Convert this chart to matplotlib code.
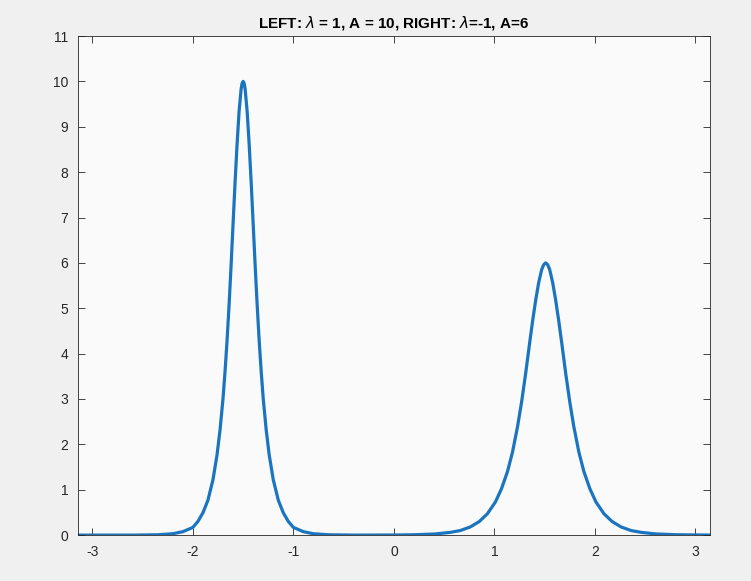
import numpy as np
import matplotlib
matplotlib.use("Agg")
import matplotlib.pyplot as plt

plt.rcParams['font.family'] = ['Liberation Sans', 'DejaVu Sans']
plt.rcParams['mathtext.fontset'] = 'dejavusans'
plt.rcParams['axes.unicode_minus'] = False

# Curve values
x_vals = [-3.1416, -2.6, -2.35, -2.2, -2.1, -2.0, -1.95, -1.9, -1.85, -1.80,
          -1.76, -1.73, -1.70, -1.68, -1.66, -1.64, -1.62, -1.60, -1.58, -1.56,
          -1.54, -1.52, -1.51, -1.50, -1.49, -1.48, -1.46, -1.44, -1.42, -1.40,
          -1.38, -1.36, -1.34, -1.32, -1.30, -1.27, -1.24, -1.20, -1.15, -1.10,
          -1.05, -1.0, -0.9, -0.8, -0.65, -0.4, 0.0, 0.21, 0.41, 0.56,
          0.66, 0.76, 0.85, 0.93, 1.01, 1.07, 1.13, 1.18, 1.23, 1.27,
          1.31, 1.35, 1.38, 1.41, 1.44, 1.47, 1.49, 1.51, 1.53, 1.55,
          1.58, 1.61, 1.64, 1.67, 1.71, 1.75, 1.79, 1.84, 1.89, 1.95,
          2.01, 2.09, 2.17, 2.26, 2.36, 2.46, 2.61, 2.81, 3.1416]
y_vals = [0.0, 0.0, 0.007, 0.03, 0.075, 0.17, 0.30, 0.49, 0.77, 1.22,
          1.76, 2.31, 3.01, 3.60, 4.28, 5.06, 5.93, 6.86, 7.78, 8.62,
          9.34, 9.83, 9.96, 10.0, 9.96, 9.83, 9.34, 8.62, 7.78, 6.86,
          5.93, 5.06, 4.28, 3.60, 3.01, 2.31, 1.76, 1.22, 0.77, 0.49,
          0.30, 0.17, 0.075, 0.03, 0.007, 0.0, 0.002, 0.008, 0.025, 0.06,
          0.10, 0.18, 0.30, 0.47, 0.73, 1.02, 1.40, 1.83, 2.39, 2.93,
          3.55, 4.23, 4.72, 5.17, 5.56, 5.85, 5.96, 6.0, 5.96, 5.85,
          5.56, 5.17, 4.72, 4.23, 3.55, 2.93, 2.39, 1.83, 1.40, 1.02,
          0.73, 0.47, 0.30, 0.18, 0.10, 0.06, 0.025, 0.008, 0.001]

x_ticks = [-3, -2, -1, 0, 1, 2, 3]
y_ticks = list(range(0, 12))
title = r"LEFT: $\lambda$ = 1, A = 10, RIGHT: $\lambda$=-1, A=6"

fig = plt.figure(figsize=(7.51, 5.81), dpi=100, facecolor='#f0f0f0')
ax = fig.add_axes([0.104, 0.079, 0.841, 0.859])
ax.set_facecolor('#fafafa')
ax.plot(x_vals, y_vals, color='#1a74bf', linewidth=2.3, solid_joinstyle='round')
ax.set_xlim(-np.pi, np.pi)
ax.set_ylim(0, 11)
ax.set_xticks(x_ticks)
ax.set_yticks(y_ticks)
ax.tick_params(direction='in', length=5, width=0.6, top=True, right=True,
               labelsize=10, colors='#262626', pad=7)
for s in ax.spines.values():
    s.set_color('#262626')
    s.set_linewidth(0.6)
ax.set_title(title, fontsize=11, fontweight='bold', color='black', pad=6)
fig.savefig('out.png', dpi=100, facecolor=fig.get_facecolor())
